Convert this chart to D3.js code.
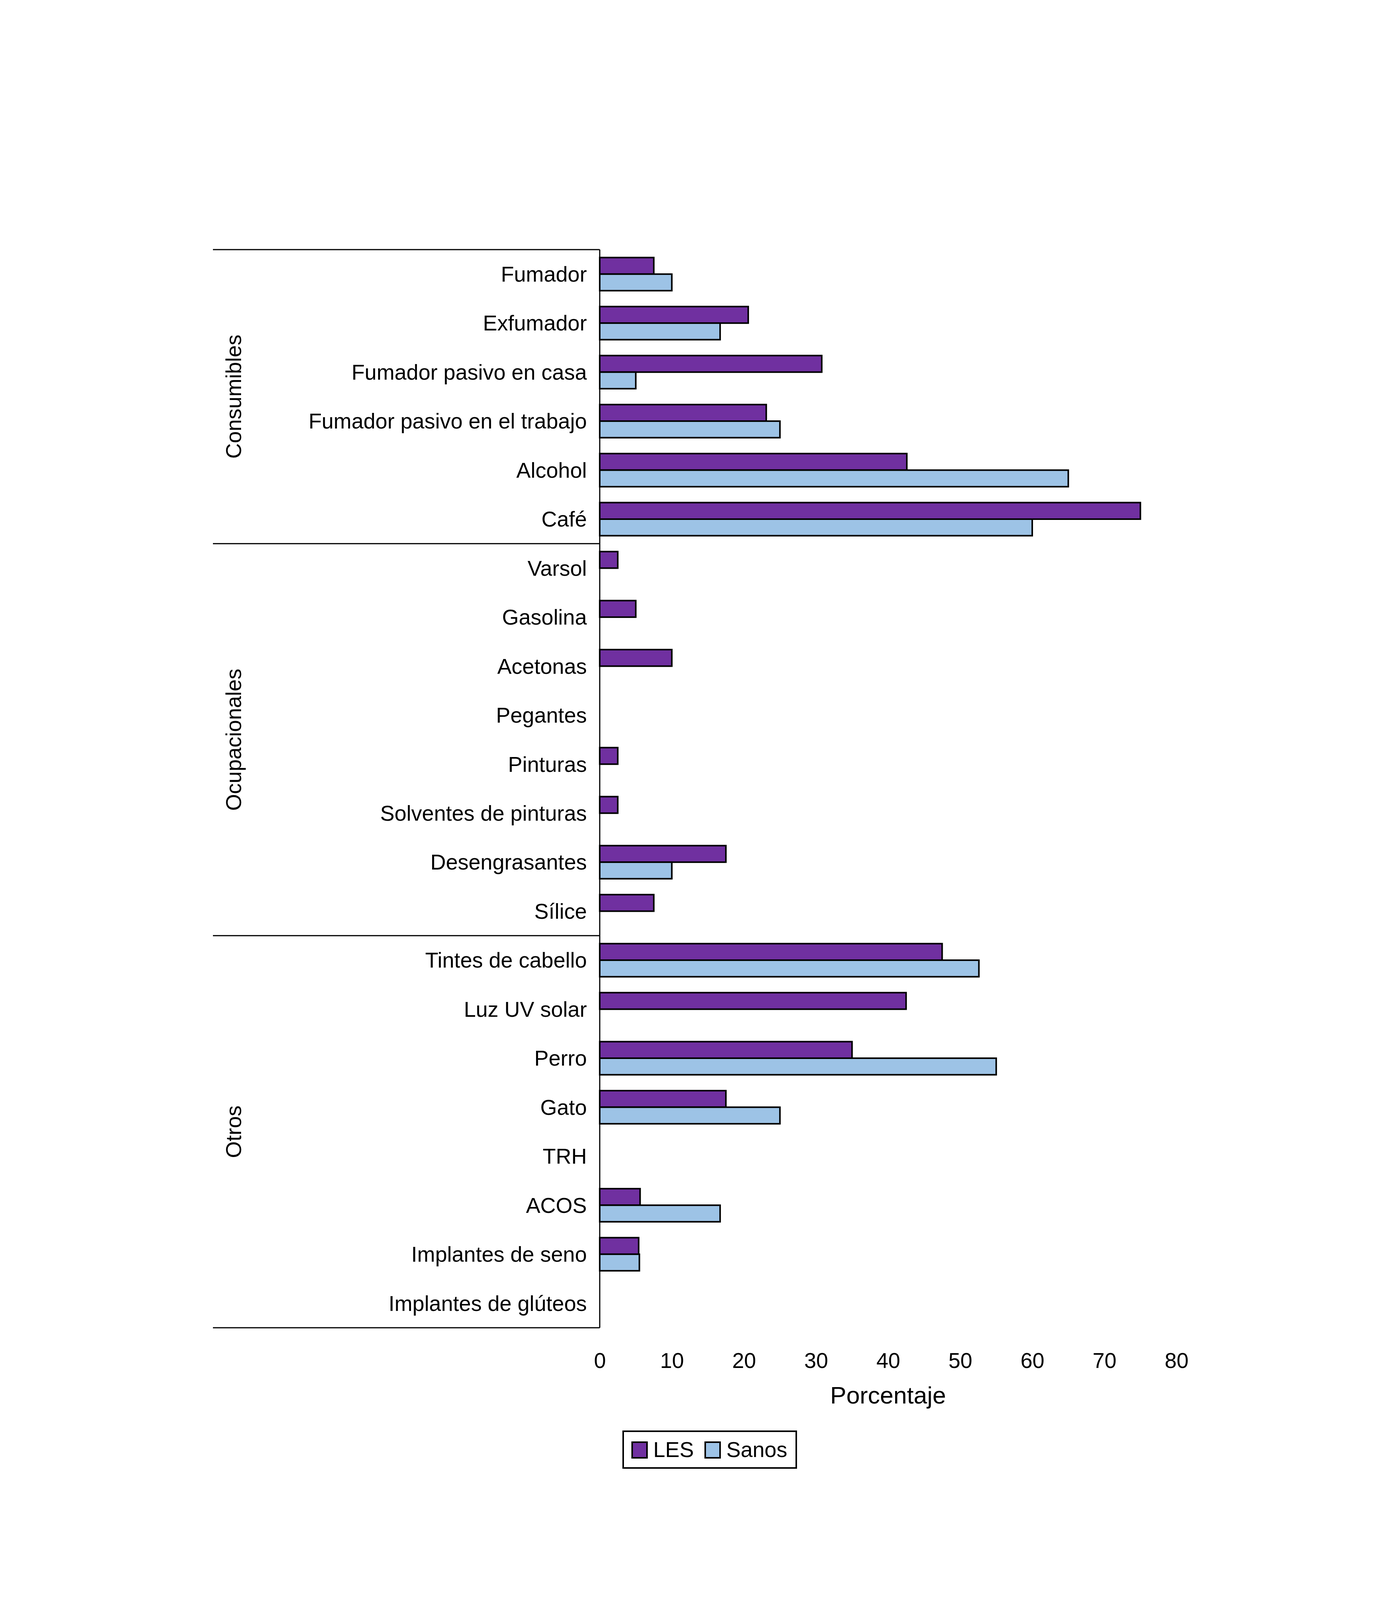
<!DOCTYPE html>
<html>
<head>
<meta charset="utf-8">
<script src="https://cdn.jsdelivr.net/npm/d3@7"></script>
<style>
  body { margin: 0; background: #fff; }
  svg text { font-family: "Liberation Sans", Arial, Helvetica, sans-serif; fill: #000; }
</style>
</head>
<body>
<svg id="chart" width="3550" height="4420"></svg>
<script>
// Datos (porcentaje)
const categories = [
    "Fumador", "Exfumador", "Fumador pasivo en casa", "Fumador pasivo en el trabajo", "Alcohol", "Café",
    "Varsol", "Gasolina", "Acetonas", "Pegantes", "Pinturas", "Solventes de pinturas", "Desengrasantes", "Sílice",
    "Tintes de cabello", "Luz UV solar", "Perro", "Gato", "TRH", "ACOS", "Implantes de seno", "Implantes de glúteos"
];
const les = [7.5, 20.6, 30.8, 23.1, 42.6, 75, 2.5, 5, 10, 0, 2.5, 2.5, 17.5, 7.5, 47.5, 42.5, 35, 17.5, 0, 5.6, 5.4, 0];
const sanos = [10, 16.7, 5, 25, 65, 60, 0, 0, 0, 0, 0, 0, 10, 0, 52.6, 0, 55, 25, 0, 16.7, 5.5, 0];
const groupNames = ["Consumibles", "Ocupacionales", "Otros"];
const groupSizes = [6, 8, 8];
const seriesNames = ["LES", "Sanos"];
const seriesColors = ["#7030a0", "#9dc3e6"];
const xTicks = [0, 10, 20, 30, 40, 50, 60, 70, 80];

const svg = d3.select("#chart");
const fontSize = 55;

const x = d3.scaleLinear().domain([0, 80]).range([1535, 3011]);
const y = d3.scaleBand().domain(categories).range([639, 3399]).paddingInner(0).paddingOuter(0);
const ySub = d3.scaleBand().domain(seriesNames).range([0, y.bandwidth()]).paddingInner(0).paddingOuter(0.48);
const color = d3.scaleOrdinal().domain(seriesNames).range(seriesColors);

// Filas de datos para las barras
const rows = [];
categories.forEach((c, i) => {
    rows.push({ cat: c, serie: "LES", value: les[i] });
    rows.push({ cat: c, serie: "Sanos", value: sanos[i] });
});

// Barras
svg.append("g")
    .selectAll("rect")
    .data(rows.filter(d => d.value > 0))
    .enter()
    .append("rect")
    .attr("x", x(0))
    .attr("y", d => y(d.cat) + ySub(d.serie))
    .attr("width", d => x(d.value) - x(0))
    .attr("height", ySub.bandwidth())
    .attr("fill", d => color(d.serie))
    .attr("stroke", "#000")
    .attr("stroke-width", 4);

// Etiquetas de categorías
svg.append("g")
    .selectAll("text")
    .data(categories)
    .enter()
    .append("text")
    .attr("x", 1502)
    .attr("y", d => y(d) + y.bandwidth() / 2)
    .attr("dy", "0.35em")
    .attr("text-anchor", "end")
    .attr("font-size", fontSize)
    .text(d => d);

// Líneas de grupos y etiquetas rotadas
const groupStarts = [];
let acc = 0;
groupSizes.forEach(n => { groupStarts.push(acc); acc += n; });

const bounds = groupStarts.map(s => y(categories[s])).concat([y.range()[1]]);

svg.append("g")
    .selectAll("line")
    .data(bounds)
    .enter()
    .append("line")
    .attr("x1", 545)
    .attr("x2", x(0))
    .attr("y1", d => d)
    .attr("y2", d => d)
    .attr("stroke", "#000")
    .attr("stroke-width", 3);

svg.append("g")
    .selectAll("text")
    .data(groupNames)
    .enter()
    .append("text")
    .attr("transform", (d, i) => {
        const cy = (bounds[i] + bounds[i + 1]) / 2;
        return `translate(598,${cy}) rotate(-90)`;
    })
    .attr("dy", "0.35em")
    .attr("text-anchor", "middle")
    .attr("font-size", fontSize)
    .text(d => d);

// Eje vertical
svg.append("line")
    .attr("x1", x(0)).attr("x2", x(0))
    .attr("y1", y.range()[0]).attr("y2", y.range()[1])
    .attr("stroke", "#000")
    .attr("stroke-width", 3);

// Eje X (sin línea ni marcas)
const xAxis = svg.append("g")
    .attr("transform", `translate(0,${y.range()[1]})`)
    .call(d3.axisBottom(x).tickValues(xTicks).tickSize(0).tickPadding(64).tickFormat(d3.format("d")));
xAxis.select(".domain").remove();
xAxis.selectAll("text")
    .attr("font-size", fontSize)
    .attr("font-family", "Liberation Sans, Arial, sans-serif")
    .attr("fill", "#000");

svg.append("text")
    .attr("x", (x.range()[0] + x.range()[1]) / 2)
    .attr("y", 3593)
    .attr("text-anchor", "middle")
    .attr("font-size", 62)
    .text("Porcentaje");

// Leyenda
const legend = svg.append("g");
legend.append("rect")
    .attr("x", 1595).attr("y", 3664)
    .attr("width", 443).attr("height", 94)
    .attr("fill", "#fff")
    .attr("stroke", "#000")
    .attr("stroke-width", 4);

const legendX = [1618, 1805];
const items = legend.selectAll("g.item")
    .data(seriesNames)
    .enter()
    .append("g")
    .attr("class", "item")
    .attr("transform", (d, i) => `translate(${legendX[i]},3692)`);

items.append("rect")
    .attr("width", 38).attr("height", 40)
    .attr("fill", d => color(d))
    .attr("stroke", "#000")
    .attr("stroke-width", 4);

items.append("text")
    .attr("x", 54)
    .attr("y", 38)
    .attr("font-size", fontSize)
    .text(d => d);
</script>
</body>
</html>
